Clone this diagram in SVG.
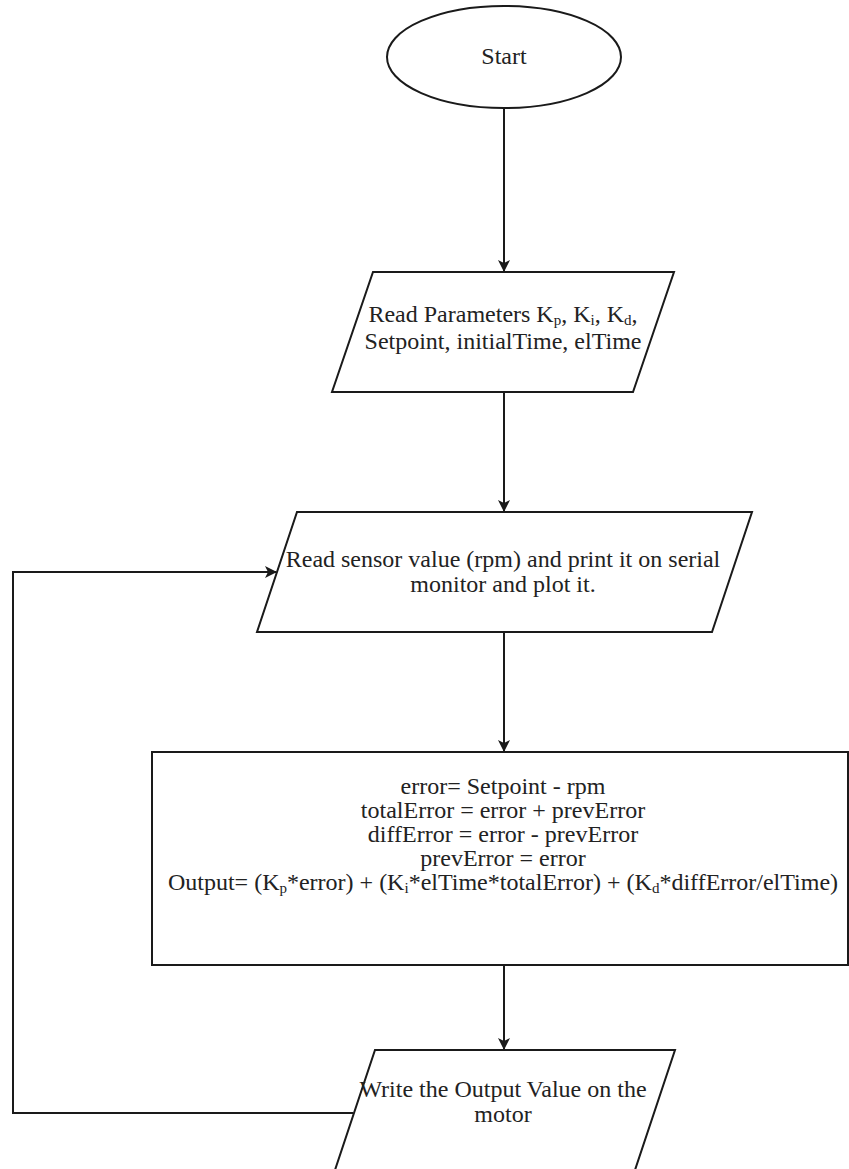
<svg xmlns="http://www.w3.org/2000/svg" width="849" height="1169" viewBox="0 0 849 1169" font-family="'Liberation Serif', 'DejaVu Serif', serif">
<style>
.shape{fill:#fff;stroke:#1a1a1a;stroke-width:2}
.conn{fill:none;stroke:#1a1a1a;stroke-width:2}
.t{font-family:'Liberation Serif','DejaVu Serif',serif;font-size:24px;fill:#222;text-anchor:middle}
.sub{font-size:15px}
</style>
<defs>
<marker id="arr" markerWidth="12" markerHeight="12" refX="11" refY="6" orient="auto" markerUnits="userSpaceOnUse">
<path d="M0,0 L12,6 L0,12 L3,6 Z" fill="#1a1a1a"/>
</marker>
</defs>
<rect width="849" height="1169" fill="#fff"/>
<g id="connectors">
<line class="conn" x1="504" y1="108" x2="504" y2="271" marker-end="url(#arr)"/>
<line class="conn" x1="504" y1="392" x2="504" y2="511" marker-end="url(#arr)"/>
<line class="conn" x1="504" y1="632" x2="504" y2="751" marker-end="url(#arr)"/>
<line class="conn" x1="504" y1="965" x2="504" y2="1049" marker-end="url(#arr)"/>
<polyline class="conn" points="353,1113 13,1113 13,572 276,572" marker-end="url(#arr)"/>
</g>
<g id="start">
<ellipse class="shape" cx="504" cy="57" rx="117" ry="51"/>
<text class="t" x="504" y="64">Start</text>
</g>
<g id="read-params">
<polygon class="shape" points="373,272 674,272 633,392 332,392"/>
<text class="t" x="503" y="322">Read Parameters K<tspan class="sub" baseline-shift="-3">p</tspan>, K<tspan class="sub" baseline-shift="-3">i</tspan>, K<tspan class="sub" baseline-shift="-3">d</tspan>,</text>
<text class="t" x="503" y="349">Setpoint, initialTime, elTime</text>
</g>
<g id="read-sensor">
<polygon class="shape" points="297,512 752,512 712,632 257,632"/>
<text class="t" x="503" y="567">Read sensor value (rpm) and print it on serial</text>
<text class="t" x="503" y="592">monitor and plot it.</text>
</g>
<g id="compute">
<rect class="shape" x="152" y="752" width="696" height="213"/>
<text class="t" x="503" y="794">error= Setpoint - rpm</text>
<text class="t" x="503" y="818">totalError = error + prevError</text>
<text class="t" x="503" y="842">diffError = error - prevError</text>
<text class="t" x="503" y="866">prevError = error</text>
<text class="t" x="503" y="890">Output= (K<tspan class="sub" baseline-shift="-3">p</tspan>*error) + (K<tspan class="sub" baseline-shift="-3">i</tspan>*elTime*totalError) + (K<tspan class="sub" baseline-shift="-3">d</tspan>*diffError/elTime)</text>
</g>
<g id="write-output">
<polygon class="shape" points="375,1050 675,1050 633,1176 333,1176"/>
<text class="t" x="503" y="1097">Write the Output Value on the</text>
<text class="t" x="503" y="1122">motor</text>
</g>
</svg>
